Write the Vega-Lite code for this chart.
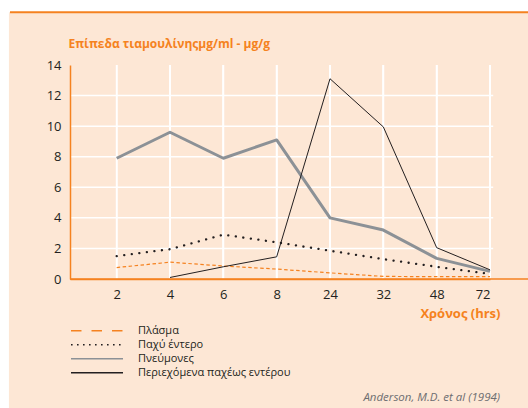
{
  "$schema": "https://vega.github.io/schema/vega-lite/v6.json",
  "width": 420,
  "height": 214,
  "autosize": "none",
  "padding": {"left": 70, "top": 65, "right": 38, "bottom": 129},
  "background": "white",
  "config": {"view": {"stroke": null}, "font": "Open Sans", "axis": {"labelOverlap": false, "labelBound": false}},
  "datasets": {
    "levels": [
      {"series": "Πλάσμα", "t": 2, "i": 1, "v": 0.75},
      {"series": "Πλάσμα", "t": 4, "i": 2, "v": 1.1},
      {"series": "Πλάσμα", "t": 6, "i": 3, "v": 0.85},
      {"series": "Πλάσμα", "t": 8, "i": 4, "v": 0.65},
      {"series": "Πλάσμα", "t": 24, "i": 5, "v": 0.4},
      {"series": "Πλάσμα", "t": 32, "i": 6, "v": 0.17},
      {"series": "Πλάσμα", "t": 48, "i": 7, "v": 0.15},
      {"series": "Πλάσμα", "t": 72, "i": 8, "v": 0.15},
      {"series": "Παχύ έντερο", "t": 2, "i": 1, "v": 1.5},
      {"series": "Παχύ έντερο", "t": 4, "i": 2, "v": 1.95},
      {"series": "Παχύ έντερο", "t": 6, "i": 3, "v": 2.9},
      {"series": "Παχύ έντερο", "t": 8, "i": 4, "v": 2.4},
      {"series": "Παχύ έντερο", "t": 24, "i": 5, "v": 1.85},
      {"series": "Παχύ έντερο", "t": 32, "i": 6, "v": 1.3},
      {"series": "Παχύ έντερο", "t": 48, "i": 7, "v": 0.8},
      {"series": "Παχύ έντερο", "t": 72, "i": 8, "v": 0.33},
      {"series": "Πνεύμονες", "t": 2, "i": 1, "v": 7.9},
      {"series": "Πνεύμονες", "t": 4, "i": 2, "v": 9.6},
      {"series": "Πνεύμονες", "t": 6, "i": 3, "v": 7.9},
      {"series": "Πνεύμονες", "t": 8, "i": 4, "v": 9.1},
      {"series": "Πνεύμονες", "t": 24, "i": 5, "v": 4.0},
      {"series": "Πνεύμονες", "t": 32, "i": 6, "v": 3.2},
      {"series": "Πνεύμονες", "t": 48, "i": 7, "v": 1.35},
      {"series": "Πνεύμονες", "t": 72, "i": 8, "v": 0.5},
      {"series": "Περιεχόμενα παχέως εντέρου", "t": 4, "i": 2, "v": 0.1},
      {"series": "Περιεχόμενα παχέως εντέρου", "t": 6, "i": 3, "v": 0.8},
      {"series": "Περιεχόμενα παχέως εντέρου", "t": 8, "i": 4, "v": 1.45},
      {"series": "Περιεχόμενα παχέως εντέρου", "t": 24, "i": 5, "v": 13.1},
      {"series": "Περιεχόμενα παχέως εντέρου", "t": 32, "i": 6, "v": 9.95},
      {"series": "Περιεχόμενα παχέως εντέρου", "t": 48, "i": 7, "v": 2.05},
      {"series": "Περιεχόμενα παχέως εντέρου", "t": 72, "i": 8, "v": 0.6}
    ],
    "hgrid": [{"g": 2}, {"g": 4}, {"g": 6}, {"g": 8}, {"g": 10}, {"g": 12}]
  },
  "layer": [
    {
      "data": {"values": [{}]},
      "mark": {"type": "rect", "fill": "#FDE7D5"},
      "encoding": {
        "x": {
          "datum": -1.02,
          "type": "quantitative",
          "scale": {"domain": [0.125, 8], "nice": false, "zero": false},
          "axis": {
            "values": [1, 2, 3, 4, 5, 6, 7, 8],
            "labelExpr": "['','2','4','6','8','24','32','48','72'][datum.value]",
            "labelOverlap": false,
            "grid": false,
            "ticks": false,
            "domain": true,
            "domainColor": "#F58220",
            "domainWidth": 1.5,
            "labelFontSize": 13,
            "labelColor": "#231F20",
            "labelPadding": 9,
            "labelFont": "Open Sans",
            "zindex": 1,
            "title": "Χρόνος (hrs)",
            "titleX": 430,
            "titleY": 38,
            "titleAlign": "right",
            "titleBaseline": "alphabetic",
            "titleColor": "#F58220",
            "titleFontSize": 13,
            "titleFontWeight": "bold",
            "titleFont": "Open Sans"
          }
        },
        "x2": {"datum": 8.72},
        "y": {
          "datum": 17.45,
          "type": "quantitative",
          "scale": {"domain": [0, 14], "nice": false, "zero": false},
          "axis": {
            "values": [0, 2, 4, 6, 8, 10, 12, 14],
            "tickCount": 8,
            "labelOverlap": false,
            "labelFlush": false,
            "grid": false,
            "ticks": false,
            "domain": true,
            "domainColor": "#F58220",
            "domainWidth": 1.5,
            "labelFontSize": 13,
            "labelColor": "#231F20",
            "labelPadding": 9,
            "labelFont": "Open Sans",
            "zindex": 1,
            "title": "Επίπεδα τιαμουλίνηςμg/ml - μg/g",
            "titleAngle": 0,
            "titleX": -2,
            "titleY": -18,
            "titleAlign": "left",
            "titleBaseline": "alphabetic",
            "titleColor": "#F58220",
            "titleFontSize": 12,
            "titleFontWeight": "bold",
            "titleFont": "Open Sans"
          }
        },
        "y2": {"datum": -8.6}
      }
    },
    {
      "data": {"values": [{}]},
      "mark": {"type": "rule", "stroke": "#F58220", "strokeWidth": 2},
      "encoding": {
        "x": {"datum": -1.0, "type": "quantitative"},
        "x2": {"datum": 8.72},
        "y": {"datum": 17.45, "type": "quantitative"}
      }
    },
    {
      "data": {"name": "levels"},
      "mark": {"type": "rule", "stroke": "white", "strokeWidth": 1.5},
      "encoding": {
        "x": {"field": "i", "type": "quantitative"},
        "y": {"datum": 0, "type": "quantitative"},
        "y2": {"datum": 14}
      }
    },
    {
      "data": {"name": "hgrid"},
      "mark": {"type": "rule", "stroke": "white", "strokeWidth": 1.5},
      "encoding": {
        "y": {"field": "g", "type": "quantitative"},
        "x": {"datum": 0.125, "type": "quantitative"},
        "x2": {"datum": 8.06}
      }
    },
    {
      "data": {"values": [{}]},
      "mark": {"type": "rule", "stroke": "#F58220", "strokeWidth": 1.5},
      "encoding": {
        "x": {"datum": 0.125, "type": "quantitative"},
        "x2": {"datum": 8.72},
        "y": {"datum": 0, "type": "quantitative"}
      }
    },
    {
      "data": {"values": [{"ref": "Anderson, M.D. et al (1994)"}]},
      "mark": {"type": "text", "align": "right", "baseline": "alphabetic", "font": "Open Sans", "fontStyle": "italic", "fontSize": 11.5, "color": "#6D6E71"},
      "encoding": {
        "x": {"datum": 8.19, "type": "quantitative"},
        "y": {"datum": -7.95, "type": "quantitative"},
        "text": {"field": "ref"}
      }
    },
    {
      "data": {"name": "levels"},
      "transform": [{"filter": "datum.series === 'Πλάσμα'"}],
      "mark": {"type": "line", "stroke": "#F58220", "strokeWidth": 1.2, "strokeDash": [3.5, 2.5]},
      "encoding": {
        "x": {"field": "i", "type": "quantitative"},
        "y": {"field": "v", "type": "quantitative"}
      }
    },
    {
      "data": {"name": "levels"},
      "transform": [{"filter": "datum.series === 'Παχύ έντερο'"}],
      "mark": {"type": "line", "stroke": "#231F20", "strokeWidth": 2.3, "strokeDash": [0.1, 7.5], "strokeCap": "round"},
      "encoding": {
        "x": {"field": "i", "type": "quantitative"},
        "y": {"field": "v", "type": "quantitative"}
      }
    },
    {
      "data": {"name": "levels"},
      "transform": [{"filter": "datum.series === 'Πνεύμονες'"}],
      "mark": {"type": "line", "stroke": "#8C9196", "strokeWidth": 3, "strokeJoin": "round"},
      "encoding": {
        "x": {"field": "i", "type": "quantitative"},
        "y": {"field": "v", "type": "quantitative"}
      }
    },
    {
      "data": {"name": "levels"},
      "transform": [{"filter": "datum.series === 'Περιεχόμενα παχέως εντέρου'"}],
      "mark": {"type": "line", "stroke": "#231F20", "strokeWidth": 1},
      "encoding": {
        "x": {"field": "i", "type": "quantitative"},
        "y": {"field": "v", "type": "quantitative"}
      }
    },
    {
      "data": {"name": "levels"},
      "mark": {"type": "line", "opacity": 0},
      "encoding": {
        "x": {"field": "i", "type": "quantitative"},
        "y": {"field": "v", "type": "quantitative"},
        "color": {
          "field": "series",
          "type": "nominal",
          "scale": {
            "domain": ["Πλάσμα", "Παχύ έντερο", "Πνεύμονες", "Περιεχόμενα παχέως εντέρου"],
            "range": ["#F58220", "#231F20", "#8C9196", "#231F20"]
          },
          "legend": {
            "orient": "none",
            "legendX": 0,
            "legendY": 259,
            "title": null,
            "padding": 0,
            "symbolType": "stroke",
            "symbolSize": 2704,
            "symbolOpacity": 1,
            "clipHeight": 13.6,
            "rowPadding": 0,
            "labelOffset": 14,
            "labelFontSize": 11,
            "labelColor": "#231F20",
            "labelFont": "Open Sans",
            "labelLimit": 300
          }
        },
        "strokeDash": {
          "field": "series",
          "type": "nominal",
          "scale": {
            "domain": ["Πλάσμα", "Παχύ έντερο", "Πνεύμονες", "Περιεχόμενα παχέως εντέρου"],
            "range": [[10.5, 10], [1.6, 4.4], [1, 0], [1, 0]]
          },
          "legend": null
        },
        "strokeWidth": {
          "field": "series",
          "type": "nominal",
          "scale": {
            "domain": ["Περιεχόμενα παχέως εντέρου", "Παχύ έντερο", "Πλάσμα", "Πνεύμονες"],
            "range": [1.2, 3]
          },
          "legend": null
        }
      }
    }
  ]
}
